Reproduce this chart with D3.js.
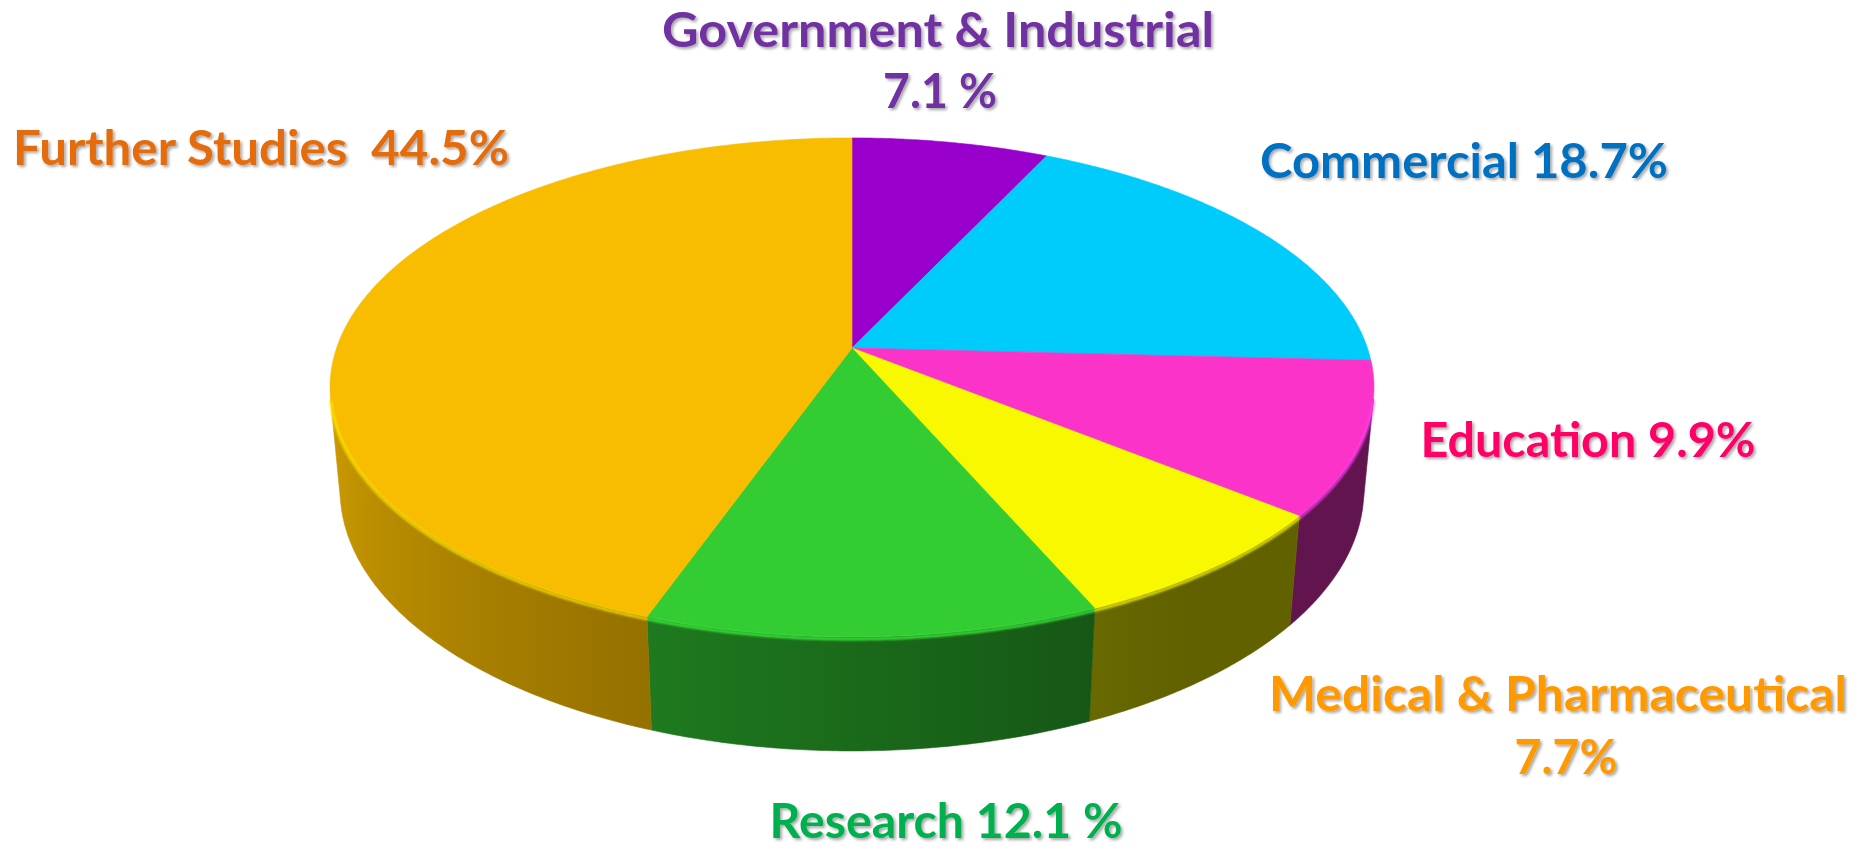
<!DOCTYPE html>
<html>
<head>
<meta charset="utf-8">
<script src="https://cdn.jsdelivr.net/npm/d3@7"></script>
<style>
  body { margin: 0; background: #fff; }
  text { font-family: Lato, "Open Sans", sans-serif; font-weight: 700; }
</style>
</head>
<body>
<script>
// data
const categories = ["Government & Industrial", "Commercial", "Education", "Medical & Pharmaceutical", "Research", "Further Studies"]
const shares = [7.1, 18.7, 9.9, 7.7, 12.1, 44.5]
const labelTexts = [
  ["Government & Industrial", "7.1 %"],
  ["Commercial 18.7%"],
  ["Education 9.9%"],
  ["Medical & Pharmaceutical", "7.7%"],
  ["Research 12.1 %"],
  ["Further Studies  44.5%"]
]

// styles
const sliceColors = ["#9900cc", "#00ccfc", "#fb33c8", "#f8f800", "#33cc33", "#f8bc00"]
const labelColors = ["#7030a0", "#0070c0", "#ff0066", "#ff9900", "#00b050", "#e46c0a"]
// label placement: centre x, baseline y, width
const labelLayout = [
  [{ x: 938, y: 47, w: 552 }, { x: 940, y: 108, w: 114 }],
  [{ x: 1464, y: 178, w: 408 }],
  [{ x: 1588, y: 457, w: 335 }],
  [{ x: 1558, y: 711, w: 578 }, { x: 1566, y: 774, w: 103 }],
  [{ x: 946, y: 838, w: 353 }],
  [{ x: 261, y: 165, w: 496 }]
]

const width = 1860
const height = 850

// simple perspective camera looking down on a unit disc
const cx = 852, cy = 348
const tilt = Math.asin(0.472)
const dist = 5.58
const focal = 2876
const thick = 0.2284

function project(a, r, y) {
  const X = r * Math.sin(a)
  const Z = -r * Math.cos(a)
  const depth = dist - (y * Math.sin(tilt) + Z * Math.cos(tilt))
  return [cx + focal * X / depth, cy + focal * (Z * Math.sin(tilt) - y * Math.cos(tilt)) / depth]
}

function arcPoints(a1, a2, y) {
  const n = Math.max(2, Math.ceil((a2 - a1) / (Math.PI / 360)))
  return d3.range(n + 1).map(i => project(a1 + (a2 - a1) * i / n, 1, y))
}

// wall shading: light from the left, darker towards the right front
function shade(color, a) {
  const deg = a * 180 / Math.PI
  const k = Math.max(0.39, Math.min(0.88, 0.4 + (deg - 150) * 0.004))
  const c = d3.rgb(color)
  return d3.rgb(c.r * k, c.g * k, c.b * k).formatHex()
}

const slices = d3.pie().sort(null).value(d => d).startAngle(0).endAngle(2 * Math.PI)(shares)

const svg = d3.select("body")
  .append("svg")
  .attr("width", width)
  .attr("height", height)

const defs = svg.append("defs")
const shadow = defs.append("filter").attr("id", "txtshadow")
  .attr("x", "-5%").attr("y", "-20%").attr("width", "110%").attr("height", "150%")
shadow.append("feDropShadow")
  .attr("dx", 2).attr("dy", 2).attr("stdDeviation", 1.5)
  .attr("flood-color", "#000").attr("flood-opacity", 0.35)

const blur = defs.append("filter").attr("id", "rimblur")
blur.append("feGaussianBlur").attr("stdDeviation", 1.2)

const line = d3.line()
const wallMin = Math.acos(-1 / (dist * Math.cos(tilt)))
const wallMax = 2 * Math.PI - wallMin

// outer walls (only the front part faces the camera)
const walls = svg.append("g")
slices.forEach((s, i) => {
  const w1 = Math.max(s.startAngle, wallMin)
  const w2 = Math.min(s.endAngle, wallMax)
  if (w1 >= w2) return
  const top = arcPoints(w1, w2, 0)
  const bottom = arcPoints(w1, w2, -thick).reverse()
  const xa = top[0][0], xb = top[top.length - 1][0]
  const grad = defs.append("linearGradient")
    .attr("id", "wall" + i)
    .attr("gradientUnits", "userSpaceOnUse")
    .attr("x1", xa).attr("x2", xb).attr("y1", 0).attr("y2", 0)
  d3.range(9).forEach(j => {
    const a = w1 + (w2 - w1) * j / 8
    const px = project(a, 1, 0)[0]
    grad.append("stop")
      .attr("offset", xb === xa ? 0 : (px - xa) / (xb - xa))
      .attr("stop-color", shade(sliceColors[i], a))
  })
  walls.append("path")
    .attr("d", line(top.concat(bottom)) + "Z")
    .attr("fill", "url(#wall" + i + ")")
    .attr("stroke", "url(#wall" + i + ")")
    .attr("stroke-width", 0.6)
})

// top faces
const tops = svg.append("g")
slices.forEach((s, i) => {
  const pts = [project(0, 0, 0)].concat(arcPoints(s.startAngle, s.endAngle, 0))
  tops.append("path")
    .attr("d", line(pts) + "Z")
    .attr("fill", sliceColors[i])
    .attr("stroke", sliceColors[i])
    .attr("stroke-width", 0.6)
})

// bevel highlight along the front rim
const rim = svg.append("g").attr("filter", "url(#rimblur)")
slices.forEach((s, i) => {
  const w1 = Math.max(s.startAngle, wallMin)
  const w2 = Math.min(s.endAngle, wallMax)
  if (w1 >= w2) return
  rim.append("path")
    .attr("d", line(arcPoints(w1, w2, -0.004)))
    .attr("fill", "none")
    .attr("stroke", d3.rgb(sliceColors[i]).brighter(0.6))
    .attr("stroke-width", 3)
    .attr("stroke-opacity", 0.8)
})

// labels
const labels = svg.append("g").attr("filter", "url(#txtshadow)")
labelTexts.forEach((lines, i) => {
  lines.forEach((t, j) => {
    const p = labelLayout[i][j]
    labels.append("text")
      .attr("x", p.x)
      .attr("y", p.y)
      .attr("text-anchor", "middle")
      .attr("font-size", 47)
      .attr("textLength", p.w)
      .attr("lengthAdjust", "spacingAndGlyphs")
      .attr("fill", labelColors[i])
      .style("white-space", "pre")
      .text(t)
  })
})
</script>
</body>
</html>
